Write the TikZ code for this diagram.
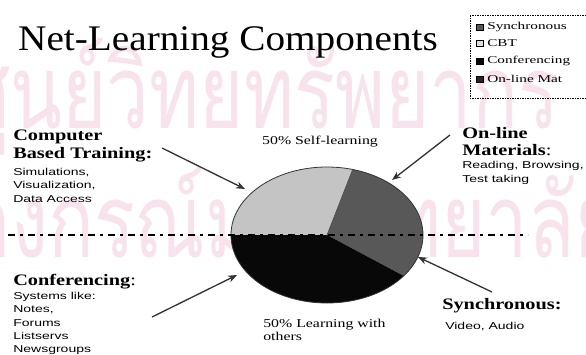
\documentclass[tikz,border=0pt]{standalone}
\usepackage{fontspec}
\setmainfont{Liberation Serif}
\newfontfamily\sansf{Liberation Sans}
\newfontfamily\thaif[Script=Thai]{Loma}
\usetikzlibrary{arrows.meta}
\definecolor{wm}{RGB}{248,227,237}
\definecolor{cbtgray}{RGB}{196,196,196}
\definecolor{olgray}{RGB}{88,88,88}
\definecolor{confblack}{RGB}{8,8,8}
\definecolor{arrowgray}{RGB}{50,50,50}
\begin{document}
\begin{tikzpicture}[x=1pt,y=-1pt,
  heading/.style={anchor=north west, inner sep=0pt, align=left, font=\fontsize{16}{17.5}\selectfont\bfseries, xscale=1.27},
  detail/.style={anchor=north west, inner sep=0pt, align=left, font=\sansf\fontsize{10}{13.5}\selectfont, xscale=1.4},
  pietext/.style={inner sep=0pt, align=left, font=\fontsize{12}{13}\selectfont, xscale=1.32},
  legtext/.style={anchor=west, inner sep=0pt, font=\fontsize{10.5}{11}\selectfont, xscale=1.45},
  legmark/.style={draw=black, line width=0.6pt, minimum width=7pt, minimum height=6pt, inner sep=0pt},
  pointer/.style={draw=arrowgray, line width=1.3pt, -{Stealth[length=9pt,width=7pt]}},
  wmtext/.style={anchor=base west, inner sep=0pt, text=wm, font=\thaif\fontsize{76}{76}\selectfont, yscale=1.35}
]
\useasboundingbox (0,0) rectangle (586,354);
\clip (0,0) rectangle (586,354);
\fill[white] (0,0) rectangle (586,354);

% watermark
\node[wmtext] (wm1) at (-38,128) {ศูนย์วิทยทรัพยากร};
\node[wmtext] (wm2) at (-175,257) {จุฬาลงกรณ์มหาวิทยาลัย};

% title
\node[anchor=base west, inner sep=0pt, font=\fontsize{36}{36}\selectfont, xscale=1.09] (title) at (18,50) {Net-Learning Components};

% legend
\draw[black, line width=0.6pt, dash pattern=on 1.5pt off 1pt] (470,15) rectangle (600,98);
\node[legmark, fill=olgray] (m1) at (479.5,27) {};
\node[legtext] (l1) at (487,27) {Synchronous};
\node[legmark, fill=cbtgray!60] (m2) at (479.5,43) {};
\node[legtext] (l2) at (487,43) {CBT};
\node[legmark, fill=confblack] (m3) at (479.5,61) {};
\node[legtext] (l3) at (487,61) {Conferencing};
\node[legmark, fill=black!85] (m4) at (479.5,79) {};
\node[legtext] (l4) at (487,79) {On-line Mat};

% pie
\coordinate (C) at (327,235);
\fill[cbtgray] (C) -- ([shift={(74.5:96pt and 68pt)}]C) arc[start angle=74.5, end angle=180, x radius=96pt, y radius=68pt] -- cycle;
\fill[olgray] (C) -- ([shift={(-37:96pt and 68pt)}]C) arc[start angle=-37, end angle=74.5, x radius=96pt, y radius=68pt] -- cycle;
\fill[confblack] (C) -- ([shift={(180:96pt and 68pt)}]C) arc[start angle=180, end angle=323, x radius=96pt, y radius=68pt] -- cycle;
\draw[black!80, line width=0.8pt] (C) ellipse [x radius=96pt, y radius=68pt];
\draw[black!70, line width=0.6pt] (C) -- ([shift={(74.5:96pt and 68pt)}]C);

% dash-dot divider
\coordinate (dl) at (8,235);
\coordinate (dr) at (528,235);
\draw[black, line width=1.6pt, dash pattern=on 7pt off 5pt on 3pt off 5pt] (dl) -- (dr);

% pie labels
\node[pietext, anchor=north] (self) at (320,136) {50\% Self-learning};
\node[pietext, anchor=north west] (others) at (263,319) {50\% Learning with\\others};

% CBT
\node[heading] (cbth) at (13,130) {Computer\\Based Training:};
\node[detail] (cbtd) at (13,168) {Simulations,\\Visualization,\\Data Access};

% On-line materials
\node[heading] (olh) at (462,127) {On-line\\Materials{\mdseries:}};
\node[detail, font=\sansf\fontsize{10}{14.5}\selectfont] (old) at (462,161) {Reading, Browsing,\\Test taking};

% Conferencing
\node[heading] (confh) at (13,274) {Conferencing{\mdseries:}};
\node[detail, font=\sansf\fontsize{10}{13.3}\selectfont] (confd) at (13,292) {Systems like:\\Notes,\\Forums\\Listservs\\Newsgroups};

% Synchronous
\node[heading] (synh) at (442,298) {Synchronous:};
\node[detail] (synd) at (445,322) {Video, Audio};

% arrows
\coordinate (a1s) at (162,148); \coordinate (a1e) at (245,189);
\coordinate (a2s) at (450,135); \coordinate (a2e) at (392,180);
\coordinate (a3s) at (152,317); \coordinate (a3e) at (237,275);
\coordinate (a4s) at (492,292); \coordinate (a4e) at (418,257);
\draw[pointer] (a1s) -- (a1e);
\draw[pointer] (a2s) -- (a2e);
\draw[pointer] (a3s) -- (a3e);
\draw[pointer] (a4s) -- (a4e);
\end{tikzpicture}
\end{document}
